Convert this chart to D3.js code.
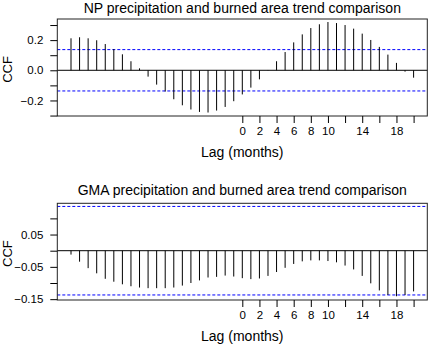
<!DOCTYPE html>
<html>
<head>
<meta charset="utf-8">
<script src="https://cdn.jsdelivr.net/npm/d3@7"></script>
<style>
  body { margin: 0; background: #fff; }
  svg { display: block; font-family: "Liberation Sans", Arial, Helvetica, sans-serif; }
  .tick line { stroke: #000; }
  .tick text { fill: #000; font-size: 11.5px; }
</style>
</head>
<body>
<div id="chart"></div>
<script>
'use strict';

// lags (months)
const lags = [-20, -19, -18, -17, -16, -15, -14, -13, -12, -11, -10, -9, -8, -7, -6, -5, -4, -3, -2, -1,
  0, 1, 2, 3, 4, 5, 6, 7, 8, 9, 10, 11, 12, 13, 14, 15, 16, 17, 18, 19, 20];

// cross-correlation, NP precipitation vs burned area
const npCcf = [0.212, 0.219, 0.212, 0.199, 0.174, 0.141, 0.106, 0.060, 0.013, -0.042,
  -0.095, -0.141, -0.192, -0.232, -0.260, -0.276, -0.280, -0.267, -0.243, -0.205,
  -0.160,
  -0.115, -0.060, 0.002, 0.060, 0.121, 0.185, 0.238, 0.280, 0.305, 0.320,
  0.313, 0.300, 0.276, 0.243, 0.201, 0.155, 0.104, 0.049, -0.009, -0.049];

// cross-correlation, GMA precipitation vs burned area
const gmaCcf = [-0.012, -0.034, -0.054, -0.070, -0.087, -0.096, -0.104, -0.110, -0.114, -0.116,
  -0.116, -0.116, -0.114, -0.108, -0.100, -0.092, -0.083, -0.081, -0.077, -0.080,
  -0.085,
  -0.088, -0.086, -0.078, -0.066, -0.053, -0.041, -0.033, -0.030, -0.030, -0.032,
  -0.036, -0.046, -0.058, -0.078, -0.101, -0.123, -0.137, -0.141, -0.137, -0.126];

// 95% confidence bound
const ciBound = 0.137;

const xTicks = [0, 2, 4, 6, 8, 10, 12, 14, 16, 18, 20];
const xTickLabels = ['0', '2', '4', '6', '8', '10', '', '14', '', '18', ''];

const npYTicks = [-0.3, -0.2, -0.1, 0, 0.1, 0.2, 0.3];
const npYTickLabels = ['', '\u22120.2', '', '0.0', '', '0.2', ''];
const gmaYTicks = [-0.15, -0.10, -0.05, 0, 0.05, 0.10];
const gmaYTickLabels = ['\u22120.15', '', '\u22120.05', '', '0.05', ''];

const W = 428, H = 345;
const left = 57.3, right = 427.3;

const svg = d3.select('#chart').append('svg')
    .attr('width', W)
    .attr('height', H);

const x = d3.scaleLinear()
    .domain([-21.6, 21.6])
    .range([left, right]);

function panel(top, bottom, title, values, yDomain, yTicks, yLabels) {
  const y = d3.scaleLinear()
      .domain(yDomain)
      .range([bottom, top]);

  const g = svg.append('g');

  // confidence bounds
  g.selectAll('.ci')
      .data([ciBound, -ciBound])
    .enter().append('line')
      .attr('x1', left)
      .attr('x2', right)
      .attr('y1', d => y(d))
      .attr('y2', d => y(d))
      .attr('stroke', '#0000ff')
      .attr('stroke-width', 1)
      .attr('stroke-dasharray', '3,2');

  // zero line
  g.append('line')
      .attr('x1', left)
      .attr('x2', right)
      .attr('y1', y(0))
      .attr('y2', y(0))
      .attr('stroke', '#000');

  // spikes
  g.selectAll('.spike')
      .data(lags.map((l, i) => ({ lag: l, v: values[i] })))
    .enter().append('line')
      .attr('class', 'spike')
      .attr('x1', d => x(d.lag))
      .attr('x2', d => x(d.lag))
      .attr('y1', y(0))
      .attr('y2', d => y(d.v))
      .attr('stroke', '#000')
      .attr('stroke-width', 1);

  // box
  g.append('rect')
      .attr('x', left)
      .attr('y', top)
      .attr('width', right - left)
      .attr('height', bottom - top)
      .attr('fill', 'none')
      .attr('stroke', '#222');

  const xAxis = d3.axisBottom(x)
      .tickValues(xTicks)
      .tickSizeInner(7)
      .tickSizeOuter(0)
      .tickPadding(4)
      .tickFormat((d, i) => xTickLabels[i]);

  const xg = g.append('g')
      .attr('transform', `translate(0, ${bottom})`)
      .call(xAxis);
  xg.select('.domain').remove();

  const yAxis = d3.axisLeft(y)
      .tickValues(yTicks)
      .tickSizeInner(7)
      .tickSizeOuter(0)
      .tickPadding(7)
      .tickFormat((d, i) => yLabels[i]);

  const yg = g.append('g')
      .attr('transform', `translate(${left}, 0)`)
      .call(yAxis);
  yg.select('.domain').remove();

  g.append('text')
      .attr('x', (left + right) / 2)
      .attr('y', Math.max(top - 8, 13))
      .attr('text-anchor', 'middle')
      .attr('font-size', 14)
      .attr('fill', '#000')
      .text(title);

  g.append('text')
      .attr('x', (left + right) / 2)
      .attr('y', bottom + 41)
      .attr('text-anchor', 'middle')
      .attr('font-size', 14)
      .attr('fill', '#000')
      .text('Lag (months)');

  g.append('text')
      .attr('transform', `translate(12, ${(top + bottom) / 2 + 2}) rotate(-90)`)
      .attr('text-anchor', 'middle')
      .attr('font-size', 13)
      .attr('fill', '#000')
      .text('CCF');
}

panel(19, 116, 'NP precipitation and burned area trend comparison',
  npCcf, [-0.303, 0.340], npYTicks, npYTickLabels);

panel(203.3, 300, 'GMA precipitation and burned area trend comparison',
  gmaCcf, [-0.1526, 0.1467], gmaYTicks, gmaYTickLabels);
</script>
</body>
</html>
